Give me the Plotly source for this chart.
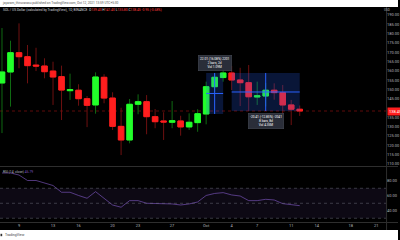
import plotly.graph_objects as go
import pandas as pd

# ---------------- data ----------------
dates = ["2021-09-07", "2021-09-08", "2021-09-09", "2021-09-10", "2021-09-11", "2021-09-12",
         "2021-09-13", "2021-09-14", "2021-09-15", "2021-09-16", "2021-09-17", "2021-09-18",
         "2021-09-19", "2021-09-20", "2021-09-21", "2021-09-22", "2021-09-23", "2021-09-24",
         "2021-09-25", "2021-09-26", "2021-09-27", "2021-09-28", "2021-09-29", "2021-09-30",
         "2021-10-01", "2021-10-02", "2021-10-03", "2021-10-04", "2021-10-05", "2021-10-06",
         "2021-10-07", "2021-10-08", "2021-10-09", "2021-10-10", "2021-10-11", "2021-10-12"]
open_ = [153.5, 159.4, 169.75, 167.6, 163.1, 162.6, 159.9, 156.9, 149.35, 149.6, 145.06, 141.7,
         156.55, 145.4, 130.2, 122.9, 142.05, 143.45, 135.4, 133.1, 132.4, 133.1, 129.9, 132.2,
         136.85, 151.5, 156.4, 158.86, 155.1, 153.65, 145.95, 146.5, 149.6, 148.3, 141.7, 139.4]
high = [183.0, 176.2, 185.5, 173.9, 172.4, 166.75, 164.9, 162.8, 158.5, 152.8, 146.5, 159.2,
        158.2, 148.5, 140.2, 144.9, 147.4, 147.0, 139.5, 137.75, 143.8, 135.9, 137.2, 139.4,
        154.2, 158.7, 161.9, 162.6, 161.65, 163.15, 154.2, 153.5, 153.3, 152.4, 144.4, 141.4]
low = [126.6, 140.8, 161.4, 153.3, 159.9, 156.0, 141.7, 133.6, 144.4, 141.3, 129.8, 137.0,
       142.6, 128.3, 114.8, 121.1, 136.7, 125.95, 129.2, 122.9, 129.2, 125.2, 128.3, 127.3,
       131.3, 148.6, 154.2, 149.7, 141.1, 138.45, 141.7, 140.9, 144.5, 136.3, 130.9, 135.8]
close = [159.4, 169.75, 167.6, 162.8, 162.6, 159.55, 156.7, 149.7, 149.9, 145.06, 141.5, 156.7,
         145.4, 130.2, 122.9, 142.05, 143.45, 135.4, 132.7, 132.55, 133.25, 129.9, 132.4, 137.0,
         151.5, 156.55, 158.86, 155.1, 153.65, 146.1, 146.65, 149.6, 148.3, 141.7, 139.4, 138.45]
rsi = [90.4, 90.4, 87.7, 80.4, 80.4, 77.1, 73.7, 64.7, 64.7, 60.4, 56.7, 65.5,
       56.4, 47.7, 44.7, 53.5, 53.5, 50.0, 49.7, 49.5, 49.1, 47.7, 49.1, 51.7,
       60.4, 63.1, 64.2, 61.1, 59.7, 53.5, 53.5, 55.3, 54.4, 49.5, 47.7, 46.79]

price_ticks = [110, 115, 120, 125, 130, 135, 145, 150, 155, 160, 165, 170, 175, 180, 185, 190]
rsi_ticks = [40, 60, 80]
rsi_levels = [30, 50, 70]
time_tick_dates = ["2021-09-09", "2021-09-13", "2021-09-16", "2021-09-20", "2021-09-23",
                   "2021-09-27", "2021-10-01", "2021-10-04", "2021-10-07", "2021-10-11",
                   "2021-10-14", "2021-10-18", "2021-10-21"]
time_tick_labels = ["9", "13", "16", "20", "23", "27", "Oct", "4", "7", "11", "14", "18", "21"]

# measured ranges (start index, end index, volume text)
ranges = [(24, 26, "Vol 1.09M"), (27, 35, "Vol 4.35M")]

symbol_text = "SOL / US Dollar (calculated by TradingView), 1D, BINANCE"
publish_text = "jayaram_thiruvarasu published on TradingView.com, Oct 12, 2021 13:59 UTC+5:30"

# ---------------- style ----------------
W, H = 400, 240
GREEN, RED = "#22ff2a", "#ff1e1e"
GREEN_WICK, RED_WICK = "#0f6a12", "#6e1010"
AXIS_TXT = "#b2b5be"
FONT = "Roboto"
XR = 0.97


def py(px):  # pixel from top -> paper y
    return 1 - px / H


fig = go.Figure()

# wicks (dim)
fig.add_trace(go.Candlestick(
    x=dates, open=open_, high=high, low=low, close=close, xaxis="x", yaxis="y",
    increasing=dict(line=dict(color=GREEN_WICK, width=1), fillcolor="rgba(0,0,0,0)"),
    decreasing=dict(line=dict(color=RED_WICK, width=1), fillcolor="rgba(0,0,0,0)"),
    whiskerwidth=0, hoverinfo="skip", showlegend=False))
# bodies (bright)
body_hi = [max(o, c) for o, c in zip(open_, close)]
body_lo = [min(o, c) for o, c in zip(open_, close)]
fig.add_trace(go.Candlestick(
    x=dates, open=open_, high=body_hi, low=body_lo, close=close, xaxis="x", yaxis="y",
    increasing=dict(line=dict(color=GREEN, width=1), fillcolor=GREEN),
    decreasing=dict(line=dict(color=RED, width=1), fillcolor=RED),
    whiskerwidth=0, hoverinfo="skip", showlegend=False))

# RSI
fig.add_trace(go.Scatter(x=dates, y=rsi, mode="lines", xaxis="x2", yaxis="y2",
                         line=dict(color="rgba(126,87,194,0.8)", width=0.8), hoverinfo="skip",
                         showlegend=False))

shapes = []
# white strips
shapes.append(dict(type="rect", xref="paper", yref="paper", x0=0, x1=1, y0=py(7), y1=1,
                   fillcolor="white", line=dict(width=0), layer="below"))
shapes.append(dict(type="rect", xref="paper", yref="paper", x0=0, x1=1, y0=0, y1=py(230),
                   fillcolor="white", line=dict(width=0), layer="below"))
# separators
for ypx in (166.5, 222.5):
    shapes.append(dict(type="line", xref="paper", yref="paper", x0=0, x1=1, y0=py(ypx), y1=py(ypx),
                       line=dict(color="#2e2e2e", width=1)))
shapes.append(dict(type="line", xref="paper", yref="paper", x0=XR + 0.5 / W, x1=XR + 0.5 / W,
                   y0=py(7), y1=py(230), line=dict(color="#2e2e2e", width=1)))
# RSI band and levels
shapes.append(dict(type="rect", xref="x2 domain", yref="y2", x0=0, x1=1, y0=rsi_levels[0],
                   y1=rsi_levels[2], fillcolor="rgba(126,87,194,0.10)", line=dict(width=0), layer="below"))
for lv in rsi_levels:
    shapes.append(dict(type="line", xref="x2 domain", yref="y2", x0=0, x1=1, y0=lv, y1=lv,
                       line=dict(color="rgba(120,123,134,0.45)", width=1, dash="dot")))
# last price line
shapes.append(dict(type="line", xref="x domain", yref="y", x0=0, x1=1, y0=close[-1], y1=close[-1],
                   line=dict(color="#5e0a0a", width=1, dash="dot"), layer="below"))

annotations = []
# range boxes
for i0, i1, vol in ranges:
    p0, p1 = open_[i0], close[i1]
    d0, d1 = pd.Timestamp(dates[i0]), pd.Timestamp(dates[i1])
    dm = d0 + (d1 - d0) / 2
    pm = (p0 + p1) / 2
    shapes.append(dict(type="rect", xref="x", yref="y", x0=dates[i0], x1=dates[i1], y0=p0, y1=p1,
                       fillcolor="rgba(41,98,255,0.22)", line=dict(width=0), layer="above"))
    shapes.append(dict(type="line", xref="x", yref="y", x0=dates[i0], x1=dates[i1], y0=pm, y1=pm,
                       line=dict(color="#2962ff", width=1), layer="above"))
    shapes.append(dict(type="line", xref="x", yref="y", x0=dm, x1=dm, y0=p0, y1=p1,
                       line=dict(color="#2962ff", width=1), layer="above"))
    diff = p1 - p0
    pct = diff / p0 * 100
    nb = i1 - i0
    txt = f"{diff:.2f} ({pct:.2f}%) {diff * 100:.0f}<br>{nb} bars, {nb}d<br>{vol}"
    up = diff > 0
    annotations.append(dict(x=dm, y=max(p0, p1) if up else min(p0, p1), xref="x", yref="y",
                            text=txt, showarrow=False, yanchor="bottom" if up else "top",
                            yshift=2 if up else -2, bgcolor="#2a2e39", bordercolor="#4a4e59",
                            borderwidth=0.5, borderpad=1.5, align="center",
                            font=dict(family=FONT, size=3.2, color="#ffffff")))

# current price tag
annotations.append(dict(x=XR + 0.5 / W, y=close[-1], xref="paper", yref="y", xanchor="left",
                        text=f"{close[-1]:.2f}", showarrow=False, bgcolor=RED, borderpad=1,
                        font=dict(family=FONT, size=4, color="white")))
annotations.append(dict(x=394 / W, y=py(10), xref="paper", yref="paper", text="USD", showarrow=False,
                        yanchor="middle", font=dict(family=FONT, size=3, color=AXIS_TXT)))
# header texts
o, h, l, c = open_[-1], high[-1], low[-1], close[-1]
chg = c - close[-2]
rc = "#ff3b3b"
hdr = (f"{symbol_text}  O<span style='color:{rc}'>{o:.2f}</span> H<span style='color:{rc}'>{h:.2f}</span>"
       f" L<span style='color:{rc}'>{l:.2f}</span> C<span style='color:{rc}'>{c:.2f}</span>"
       f" <span style='color:{rc}'>{chg:+.2f} ({chg / close[-2] * 100:+.2f}%)</span>")
annotations.append(dict(x=1 / W, y=py(10), xref="paper", yref="paper", xanchor="left", yanchor="middle",
                        text=hdr, showarrow=False, font=dict(family=FONT, size=3.3, color="#d1d4dc")))
annotations.append(dict(x=0, y=py(3.5), xref="paper", yref="paper", xanchor="left", yanchor="middle",
                        text=publish_text, showarrow=False, font=dict(family=FONT, size=3.2, color="#555555")))
annotations.append(dict(x=1 / W, y=py(172), xref="paper", yref="paper", xanchor="left", yanchor="middle",
                        text=f"RSI (14, close) <span style='color:#7e57c2'>{rsi[-1]:.2f}</span>",
                        showarrow=False, font=dict(family=FONT, size=3.3, color=AXIS_TXT)))
annotations.append(dict(x=3 / W, y=py(235), xref="paper", yref="paper", xanchor="left", yanchor="middle",
                        text="TradingView", showarrow=False, font=dict(family=FONT, size=3.5, color="#444444")))
shapes.append(dict(type="rect", xref="paper", yref="paper", x0=0.5 / W, x1=2.2 / W, y0=py(236.2), y1=py(233.8),
                   fillcolor="#333333", line=dict(width=0)))

xrange = ["2021-09-06 18:23", "2021-10-22 03:36"]

fig.update_layout(
    width=W, height=H, margin=dict(l=0, r=0, t=0, b=0),
    paper_bgcolor="#000000", plot_bgcolor="#000000",
    boxgap=0, boxgroupgap=0.35,
    showlegend=False, shapes=shapes, annotations=annotations,
    font=dict(family=FONT),
    xaxis=dict(domain=[0, XR], range=xrange, anchor="y", showgrid=False, zeroline=False,
               showticklabels=False, rangeslider=dict(visible=False), showline=False),
    xaxis2=dict(domain=[0, XR], range=xrange, anchor="y2", matches="x", showgrid=False, zeroline=False,
                tickmode="array", tickvals=time_tick_dates, ticktext=time_tick_labels,
                tickfont=dict(size=4, color=AXIS_TXT, family=FONT), ticks="", showline=False),
    yaxis=dict(domain=[py(166), py(8)], range=[108.92, 193.75], side="right", anchor="x",
               showgrid=False, zeroline=False, tickmode="array", tickvals=price_ticks,
               tickformat=".2f", ticks="", tickfont=dict(size=4, color=AXIS_TXT, family=FONT)),
    yaxis2=dict(domain=[py(222), py(167)], range=[25, 98.4], side="right", anchor="x2",
                showgrid=False, zeroline=False, tickmode="array", tickvals=rsi_ticks,
                tickformat=".2f", ticks="", tickfont=dict(size=4, color=AXIS_TXT, family=FONT)),
)

fig.write_html("out.html")
